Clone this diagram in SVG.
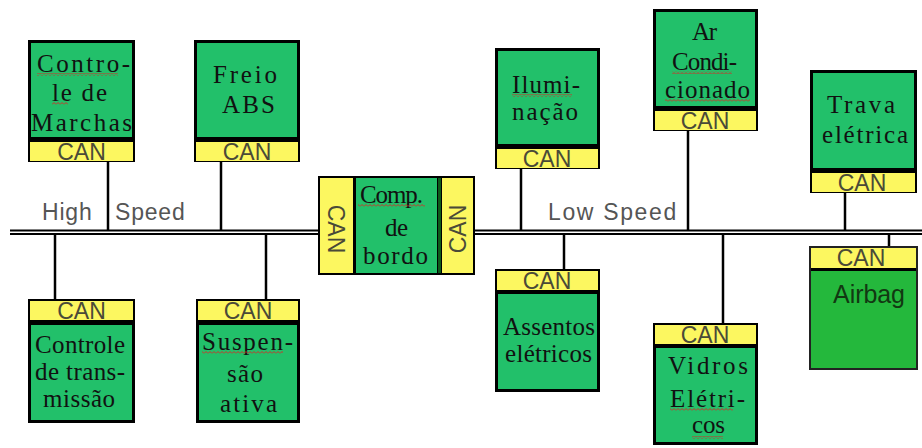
<svg xmlns="http://www.w3.org/2000/svg" width="922" height="448" viewBox="0 0 922 448">
  <defs>
    <pattern id="squig" width="4" height="3" patternUnits="userSpaceOnUse">
      <path d="M0 2.5 L2 0.5 L4 2.5" fill="none" stroke="#e02020" stroke-width="0.9"/>
    </pattern>
  </defs>
  <style>
    .frame { fill: #000; }
    .body { fill: #22c06a; }
    .can { fill: #fcf760; }
    .cantxt { font-family: "Liberation Sans", Arial, sans-serif; font-size: 23px; fill: #4a4a38; text-anchor: middle; }
    .lbl { font-family: "Liberation Serif", "Times New Roman", serif; font-size: 25px; fill: #111; }
    .bus { font-family: "Liberation Sans", Arial, sans-serif; font-size: 23px; fill: #555; letter-spacing: 0.8px; }
    .wire { stroke: #000; stroke-width: 2.5; fill: none; }
    .rail { stroke: #000; stroke-width: 2; fill: none; }
    .sq { fill: url(#squig); }
  </style>

  <rect width="922" height="448" fill="#fff"/>

  <!-- bus rails and drop lines -->
  <g id="connectors">
    <line class="rail" x1="10" y1="230.5" x2="318" y2="230.5"/>
    <line class="rail" x1="10" y1="234" x2="318" y2="234"/>
    <line class="rail" x1="475" y1="230.5" x2="922" y2="230.5"/>
    <line class="rail" x1="475" y1="234" x2="922" y2="234"/>
    <line class="wire" x1="108" y1="161" x2="108" y2="230"/>
    <line class="wire" x1="221" y1="161" x2="221" y2="230"/>
    <line class="wire" x1="521" y1="168" x2="521" y2="230"/>
    <line class="wire" x1="688" y1="130" x2="688" y2="230"/>
    <line class="wire" x1="845" y1="192" x2="845" y2="230"/>
    <line class="wire" x1="55" y1="234" x2="55" y2="300"/>
    <line class="wire" x1="266" y1="234" x2="266" y2="300"/>
    <line class="wire" x1="564" y1="234" x2="564" y2="270"/>
    <line class="wire" x1="723" y1="234" x2="723" y2="324"/>
    <line class="wire" x1="889" y1="234" x2="889" y2="248"/>
    <text class="bus" x="42" y="220">High</text>
    <text class="bus" x="115" y="220">Speed</text>
    <text class="bus" x="548" y="220" textLength="129" lengthAdjust="spacing">Low Speed</text>
  </g>

  <!-- high speed side, upper -->
  <g id="controle-marchas">
    <rect class="frame" x="28" y="40" width="107" height="122"/>
    <rect class="body" x="31" y="43" width="101" height="94"/>
    <rect class="can" x="30" y="142" width="103" height="19"/>
    <text class="cantxt" x="81.5" y="160">CAN</text>
    <text class="lbl" x="37" y="72" textLength="93" lengthAdjust="spacing">Contro-</text>
    <text class="lbl" x="52" y="101" textLength="55" lengthAdjust="spacing">le de</text>
    <text class="lbl" x="31" y="131" textLength="101" lengthAdjust="spacing">Marchas</text>
    <rect class="sq" x="37" y="73" width="81" height="3"/>
    <rect class="sq" x="52" y="102" width="16" height="3"/>
  </g>

  <g id="freio-abs">
    <rect class="frame" x="194" y="40" width="106" height="122"/>
    <rect class="body" x="197" y="43" width="100" height="94"/>
    <rect class="can" x="196" y="142" width="102" height="19"/>
    <text class="cantxt" x="247" y="160">CAN</text>
    <text class="lbl" x="213" y="83" textLength="64" lengthAdjust="spacing">Freio</text>
    <text class="lbl" x="222" y="113" textLength="53" lengthAdjust="spacing">ABS</text>
  </g>

  <!-- high speed side, lower -->
  <g id="controle-transmissao">
    <rect class="frame" x="28" y="299" width="107" height="124"/>
    <rect class="can" x="30" y="301" width="103" height="19"/>
    <rect class="body" x="31" y="325" width="101" height="95"/>
    <text class="cantxt" x="81.5" y="319">CAN</text>
    <text class="lbl" x="35" y="353" textLength="90" lengthAdjust="spacing">Controle</text>
    <text class="lbl" x="35" y="380" textLength="90" lengthAdjust="spacing">de trans-</text>
    <text class="lbl" x="43" y="407" textLength="72" lengthAdjust="spacing">missão</text>
  </g>

  <g id="suspensao">
    <rect class="frame" x="196" y="299" width="104" height="124"/>
    <rect class="can" x="198" y="301" width="100" height="19"/>
    <rect class="body" x="199" y="325" width="98" height="95"/>
    <text class="cantxt" x="248" y="319">CAN</text>
    <text class="lbl" x="202" y="350" textLength="91" lengthAdjust="spacing">Suspen-</text>
    <text class="lbl" x="227" y="382" textLength="36" lengthAdjust="spacing">são</text>
    <text class="lbl" x="220" y="412" textLength="57" lengthAdjust="spacing">ativa</text>
    <rect class="sq" x="202" y="351" width="81" height="3"/>
  </g>

  <!-- gateway between the two buses -->
  <g id="comp-bordo">
    <rect class="frame" x="318" y="176" width="157" height="99"/>
    <rect class="can" x="320" y="178" width="33" height="95"/>
    <rect class="body" x="356" y="178" width="81" height="95"/>
    <rect x="438" y="178" width="3" height="95" fill="#0d5a1a"/>
    <rect class="can" x="442" y="178" width="31" height="95"/>
    <text class="cantxt" transform="translate(328,229) rotate(90)">CAN</text>
    <text class="cantxt" transform="translate(466,229) rotate(-90)">CAN</text>
    <text class="lbl" x="360" y="203" textLength="63" lengthAdjust="spacing">Comp.</text>
    <text class="lbl" x="385" y="236" textLength="23" lengthAdjust="spacing">de</text>
    <text class="lbl" x="363" y="264" textLength="65" lengthAdjust="spacing">bordo</text>
    <rect class="sq" x="358" y="204" width="67" height="3"/>
  </g>

  <!-- low speed side, upper -->
  <g id="iluminacao">
    <rect class="frame" x="495" y="48" width="105" height="121"/>
    <rect class="body" x="498" y="51" width="99" height="93"/>
    <rect class="can" x="497" y="149" width="101" height="19"/>
    <text class="cantxt" x="547" y="167">CAN</text>
    <text class="lbl" x="512" y="93" textLength="68" lengthAdjust="spacing">Ilumi-</text>
    <text class="lbl" x="512" y="120" textLength="66" lengthAdjust="spacing">nação</text>
    <rect class="sq" x="512" y="94" width="60" height="3"/>
  </g>

  <g id="ar-condicionado">
    <rect class="frame" x="653" y="9" width="105" height="122"/>
    <rect class="body" x="656" y="12" width="99" height="94"/>
    <rect class="can" x="655" y="111" width="101" height="19"/>
    <text class="cantxt" x="705" y="129">CAN</text>
    <text class="lbl" x="692" y="40" textLength="25" lengthAdjust="spacing">Ar</text>
    <text class="lbl" x="672" y="70" textLength="65" lengthAdjust="spacing">Condi-</text>
    <text class="lbl" x="665" y="98" textLength="85" lengthAdjust="spacing">cionado</text>
    <rect class="sq" x="672" y="71" width="60" height="3"/>
    <rect class="sq" x="665" y="99" width="85" height="3"/>
  </g>

  <g id="trava-eletrica">
    <rect class="frame" x="810" y="70" width="107" height="123"/>
    <rect class="body" x="813" y="73" width="101" height="95"/>
    <rect class="can" x="812" y="173" width="103" height="19"/>
    <text class="cantxt" x="862" y="191">CAN</text>
    <text class="lbl" x="827" y="113" textLength="68" lengthAdjust="spacing">Trava</text>
    <text class="lbl" x="822" y="143" textLength="86" lengthAdjust="spacing">elétrica</text>
  </g>

  <!-- low speed side, lower -->
  <g id="assentos-eletricos">
    <rect class="frame" x="495" y="269" width="105" height="123"/>
    <rect class="can" x="497" y="271" width="101" height="19"/>
    <rect class="body" x="498" y="294" width="99" height="95"/>
    <text class="cantxt" x="547" y="289">CAN</text>
    <text class="lbl" x="503" y="335" textLength="92" lengthAdjust="spacing">Assentos</text>
    <text class="lbl" x="505" y="362" textLength="87" lengthAdjust="spacing">elétricos</text>
  </g>

  <g id="vidros-eletricos">
    <rect class="frame" x="653" y="323" width="105" height="122"/>
    <rect class="can" x="655" y="325" width="101" height="19"/>
    <rect class="body" x="656" y="348" width="99" height="94"/>
    <text class="cantxt" x="705" y="343">CAN</text>
    <text class="lbl" x="668" y="374" textLength="80" lengthAdjust="spacing">Vidros</text>
    <text class="lbl" x="670" y="407" textLength="75" lengthAdjust="spacing">Elétri-</text>
    <text class="lbl" x="692" y="433" textLength="33" lengthAdjust="spacing">cos</text>
    <rect class="sq" x="670" y="408" width="63" height="3"/>
    <rect class="sq" x="692" y="436" width="31" height="3"/>
  </g>

  <g id="airbag">
    <rect x="810" y="247" width="107" height="122" fill="#24b83c" stroke="#222" stroke-width="2"/>
    <rect class="can" x="811" y="248" width="105" height="20"/>
    <rect class="frame" x="811" y="268" width="105" height="3"/>
    <text class="cantxt" x="861" y="266">CAN</text>
    <text x="833" y="303" textLength="72" lengthAdjust="spacing" font-family="Liberation Sans, Arial, sans-serif" font-size="25" fill="#123812">Airbag</text>
  </g>
</svg>
